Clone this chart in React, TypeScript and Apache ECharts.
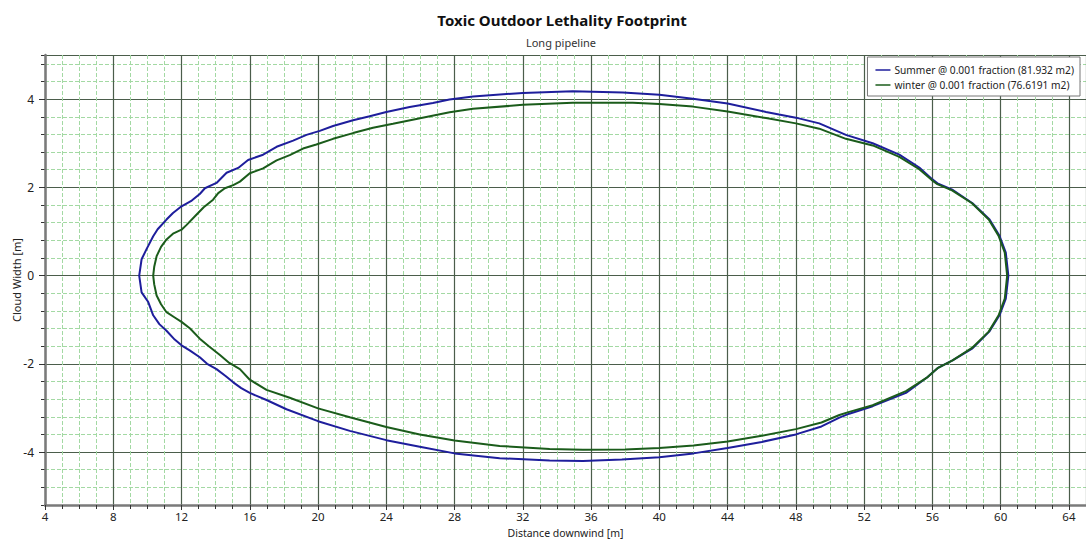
import React, { useEffect, useRef } from "react";
import * as echarts from "echarts";

const titleText = "Toxic Outdoor Lethality Footprint";
const subtitleText = "Long pipeline";
const xAxisName = "Distance downwind [m]";
const yAxisName = "Cloud Width [m]";
const summerName = "Summer @ 0.001 fraction (81.932 m2)";
const winterName = "winter @ 0.001 fraction (76.6191 m2)";

const summerUpper: [number, number][] = [
  [60.45, 0], [60.3, 0.52], [59.93, 0.9], [59.35, 1.27], [58.35, 1.64], [57.2, 1.94], [56.3, 2.09],
  [56.0, 2.18], [55.23, 2.45], [54.06, 2.74], [52.5, 3.0], [50.93, 3.19], [49.37, 3.45], [48.0, 3.58],
  [46.25, 3.71], [44.0, 3.9], [41.96, 4.01], [40.0, 4.1], [37.86, 4.15], [34.93, 4.18], [32.0, 4.14],
  [29.08, 4.06], [27.7, 3.99], [26.73, 3.91], [25.37, 3.82], [24.0, 3.71], [23.03, 3.61], [22.05, 3.52],
  [20.88, 3.39], [20.1, 3.28], [19.32, 3.19], [18.54, 3.06], [17.57, 2.92], [16.78, 2.74], [15.9, 2.62],
  [15.32, 2.44], [14.64, 2.33], [14.05, 2.1], [13.37, 1.98], [13.07, 1.85], [12.6, 1.7], [12.0, 1.57],
  [11.5, 1.42], [11.12, 1.27], [10.6, 1.05], [10.34, 0.89], [9.95, 0.6], [9.66, 0.37], [9.52, 0],
];
const summerLower: [number, number][] = [
  [9.66, -0.38], [10.05, -0.6], [10.34, -0.9], [10.7, -1.1], [11.12, -1.25], [11.6, -1.45], [12.0, -1.58],
  [12.5, -1.7], [13.07, -1.85], [13.5, -2.0], [14.05, -2.12], [14.6, -2.28], [15.03, -2.42], [15.5, -2.55],
  [16.0, -2.66], [16.98, -2.82], [18.15, -3.03], [20.0, -3.3], [21.86, -3.52], [24.0, -3.73], [25.96, -3.88],
  [28.0, -4.03], [30.64, -4.14], [33.57, -4.19], [35.52, -4.2], [37.8, -4.17], [40.0, -4.12], [42.0, -4.03],
  [44.0, -3.91], [46.0, -3.77], [48.0, -3.6], [49.5, -3.42], [50.55, -3.22], [51.13, -3.13], [52.5, -2.96],
  [54.45, -2.66], [55.72, -2.3], [56.0, -2.2], [56.3, -2.1], [57.18, -1.92], [58.35, -1.65], [59.33, -1.27],
  [59.93, -0.9], [60.3, -0.52], [60.45, 0],
];
const winterUpper: [number, number][] = [
  [60.38, 0], [60.24, 0.52], [59.88, 0.9], [59.3, 1.27], [58.32, 1.64], [57.15, 1.93], [56.25, 2.08],
  [55.95, 2.17], [55.23, 2.41], [54.06, 2.69], [52.5, 2.95], [50.93, 3.1], [49.37, 3.33], [48.0, 3.45],
  [46.25, 3.57], [44.0, 3.72], [41.96, 3.83], [40.0, 3.89], [38.44, 3.92], [34.93, 3.92], [32.0, 3.87],
  [29.08, 3.78], [27.71, 3.7], [25.76, 3.55], [24.39, 3.44], [23.22, 3.35], [22.05, 3.23], [20.88, 3.1],
  [19.9, 2.97], [19.12, 2.88], [18.34, 2.73], [17.57, 2.61], [16.78, 2.43], [16.0, 2.32], [15.42, 2.13],
  [15.03, 2.05], [14.54, 1.98], [14.15, 1.87], [13.85, 1.72], [13.3, 1.55], [12.8, 1.35], [12.3, 1.15],
  [12.0, 1.04], [11.5, 0.95], [11.12, 0.82], [10.8, 0.65], [10.54, 0.44], [10.4, 0.2], [10.34, 0],
];
const winterLower: [number, number][] = [
  [10.4, -0.2], [10.54, -0.45], [10.8, -0.65], [11.12, -0.83], [11.6, -0.95], [12.0, -1.05], [12.5, -1.2],
  [13.07, -1.43], [13.6, -1.6], [14.25, -1.8], [14.8, -1.98], [15.42, -2.12], [16.0, -2.36], [16.98, -2.59],
  [18.34, -2.77], [20.0, -3.01], [21.86, -3.21], [24.0, -3.43], [25.96, -3.6], [28.0, -3.74], [30.64, -3.86],
  [33.57, -3.93], [35.52, -3.95], [38.0, -3.94], [40.0, -3.91], [42.0, -3.85], [44.0, -3.76], [46.0, -3.63],
  [48.0, -3.48], [49.5, -3.33], [50.55, -3.16], [51.13, -3.09], [52.5, -2.94], [54.45, -2.62], [55.72, -2.3],
  [56.0, -2.2], [56.3, -2.1], [57.18, -1.92], [58.32, -1.64], [59.3, -1.27], [59.88, -0.9], [60.24, -0.52],
  [60.38, 0],
];

const xMin = 4;
const xMax = 65;
const xMajor = 4;
const yMin = -5.2;
const yMax = 5;
const yMinor = 0.4;

const FONT = "'Noto Sans', 'Open Sans', sans-serif";
const MAJOR = "#4b5d4b";
const MINOR = "#a3d9a3";
const AXIS = "#7a7a7a";

export default function App() {
  const ref = useRef<HTMLDivElement>(null);
  useEffect(() => {
    if (!ref.current) return;
    const chart = echarts.init(ref.current, undefined, { renderer: "svg" });
    chart.setOption({
      animation: false,
      backgroundColor: "#ffffff",
      textStyle: { fontFamily: FONT },
      graphic: [
        {
          type: "text",
          x: 562,
          y: 20,
          style: {
            text: titleText,
            textAlign: "center",
            textVerticalAlign: "middle",
            font: `bold 15px ${FONT}`,
            fill: "#111",
          },
        },
        {
          type: "text",
          x: 561,
          y: 42,
          style: {
            text: subtitleText,
            textAlign: "center",
            textVerticalAlign: "middle",
            font: `11px ${FONT}`,
            fill: "#333",
          },
        },
      ],
      legend: {
        orient: "vertical",
        right: 6,
        top: 57,
        padding: [8, 6, 6, 8],
        itemGap: 5,
        itemWidth: 15,
        itemHeight: 1.5,
        icon: "rect",
        backgroundColor: "#ffffff",
        borderColor: "#777",
        borderWidth: 1,
        textStyle: { fontSize: 10.2, color: "#222", fontFamily: FONT, padding: [0, 0, 0, -1] },
        data: [summerName, winterName],
      },
      grid: { left: 45, right: 0, top: 55, bottom: 37, containLabel: false, outerBoundsMode: "none" },
      xAxis: [
        {
          type: "value",
          min: xMin,
          max: xMax,
          interval: xMajor,
          z: 1,
          name: xAxisName,
          nameLocation: "middle",
          nameGap: 22,
          nameMoveOverlap: false,
          nameTextStyle: { fontSize: 10.5, color: "#222" },
          axisLine: { show: true, onZero: false, lineStyle: { color: AXIS, width: 2.5 } },
          axisTick: { show: true, length: 5, lineStyle: { color: "#333" } },
          minorTick: { show: true, splitNumber: 4, length: 4, lineStyle: { color: "#333" } },
          axisLabel: { fontSize: 11.5, color: "#222", margin: 5, showMaxLabel: false },
          splitLine: { show: true, lineStyle: { color: MAJOR, width: 1.2 } },
          minorSplitLine: { show: true, lineStyle: { color: MINOR, width: 1, type: [4, 2] } },
        },
      ],
      yAxis: [
        {
          type: "value",
          min: yMin,
          max: yMax,
          z: 1,
          name: yAxisName,
          nameLocation: "middle",
          nameGap: 23,
          nameMoveOverlap: false,
          nameTextStyle: { fontSize: 11, color: "#222" },
          axisLine: { show: true, onZero: false, lineStyle: { color: AXIS, width: 2.5 } },
          axisTick: { show: true, length: 6, lineStyle: { color: "#333" } },
          axisLabel: { fontSize: 12, color: "#222", margin: 11, showMinLabel: false, showMaxLabel: false },
          splitLine: { show: true, lineStyle: { color: MAJOR, width: 1.2 } },
        },
        {
          type: "value",
          min: yMin,
          max: yMax,
          interval: yMinor,
          position: "left",
          z: 0,
          axisLine: { show: false },
          axisTick: { show: true, length: 4, lineStyle: { color: "#333" } },
          axisLabel: { show: false },
          splitLine: { show: true, lineStyle: { color: MINOR, width: 1, type: [4, 2] } },
        },
      ],
      series: [
        {
          name: summerName,
          type: "line",
          xAxisIndex: 0,
          yAxisIndex: 0,
          data: [...summerUpper, ...summerLower],
          showSymbol: false,
          symbol: "none",
          z: 5,
          lineStyle: { color: "#1e1e9c", width: 2 },
          itemStyle: { color: "#1e1e9c" },
        },
        {
          name: winterName,
          type: "line",
          xAxisIndex: 0,
          yAxisIndex: 0,
          data: [...winterUpper, ...winterLower],
          showSymbol: false,
          symbol: "none",
          z: 6,
          lineStyle: { color: "#1b5c1b", width: 2 },
          itemStyle: { color: "#1b5c1b" },
        },
      ],
    });
    return () => chart.dispose();
  }, []);
  return (
    <div
      ref={ref}
      style={{ position: "fixed", left: 0, top: 0, width: 1086, height: 542, background: "#fff" }}
    />
  );
}
